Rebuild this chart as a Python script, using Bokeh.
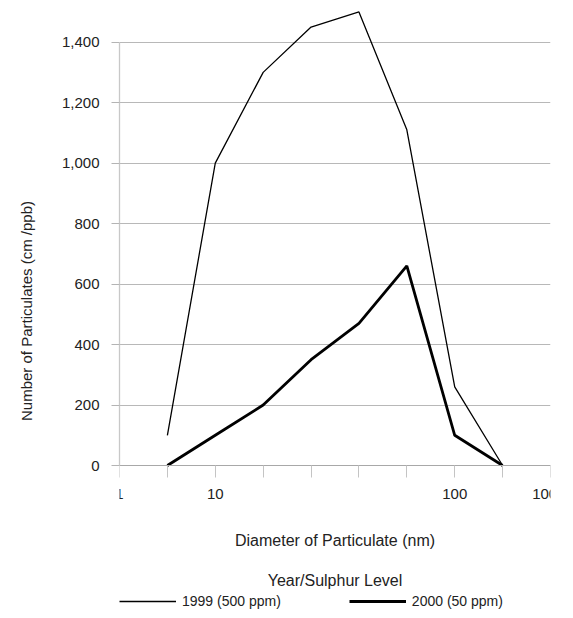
from bokeh.plotting import figure
from bokeh.models import (Range1d, FixedTicker, NumeralTickFormatter, Legend, LegendItem,
                          LinearAxis)
from bokeh.embed import file_html
from bokeh.resources import INLINE

# category slots on the x axis and their labels
slot_labels = ["1", "", "10", "", "", "", "", "100", "", "1000"]
slots = [1, 2, 3, 4, 5, 6, 7, 8]
y1999 = [100, 1000, 1300, 1450, 1500, 1110, 260, 0]
y2000 = [0, 100, 200, 350, 470, 660, 100, 0]
y_ticks = [0, 200, 400, 600, 800, 1000, 1200, 1400]

FONT = "Liberation Sans"
TXT = "#222222"

# the frame reaches down below the x axis so the legend can sit inside it
p = figure(frame_width=431, frame_height=603,
           min_border_left=119, min_border_right=15, min_border_top=9, min_border_bottom=0,
           x_range=Range1d(0, len(slot_labels) - 1), y_range=Range1d(-486, 1508),
           output_backend="svg", toolbar_location=None)
p.outline_line_color = None

r1 = p.line(slots, y1999, line_color="black", line_width=1.3)
r2 = p.line(slots, y2000, line_color="black", line_width=2.8)

# x axis, drawn at y = 0
p.xaxis.fixed_location = 0
p.xaxis.ticker = FixedTicker(ticks=list(range(len(slot_labels))))
p.xaxis.major_label_overrides = {i: s for i, s in enumerate(slot_labels)}
p.xaxis.minor_tick_line_color = None
p.xaxis.major_tick_in = 0
p.xaxis.major_tick_out = 12
p.xaxis.major_tick_line_color = "#c4c4c4"
p.xaxis.axis_line_color = "#a8a8a8"
p.xaxis.major_label_standoff = 11
p.xaxis.major_label_text_font = FONT
p.xaxis.major_label_text_font_size = "15px"
p.xaxis.major_label_text_color = TXT
p.xaxis.axis_label = "Diameter of Particulate (nm)"
p.xaxis.axis_label_text_font = FONT
p.xaxis.axis_label_text_font_size = "16px"
p.xaxis.axis_label_text_font_style = "normal"
p.xaxis.axis_label_text_color = TXT
p.xaxis.axis_label_standoff = 30
p.xgrid.grid_line_color = None

# y axis
p.yaxis.bounds = (0, 1400)
p.yaxis.ticker = FixedTicker(ticks=y_ticks)
p.yaxis.formatter = NumeralTickFormatter(format="0,0")
p.yaxis.minor_tick_line_color = None
p.yaxis.major_tick_in = 0
p.yaxis.major_tick_out = 8
p.yaxis.major_tick_line_color = "#b4b4b4"
p.yaxis.axis_line_color = "#c8c8c8"
p.yaxis.axis_line_width = 1.3
p.yaxis.major_label_standoff = 12
p.yaxis.major_label_text_font = FONT
p.yaxis.major_label_text_font_size = "15px"
p.yaxis.major_label_text_color = TXT
p.yaxis.axis_label = "Number of Particulates (cm /ppb)"
p.yaxis.axis_label_text_font = FONT
p.yaxis.axis_label_text_font_size = "15px"
p.yaxis.axis_label_text_font_style = "normal"
p.yaxis.axis_label_text_color = TXT
p.yaxis.axis_label_standoff = 24
p.ygrid.grid_line_color = "#b8b8b8"
p.ygrid.grid_line_width = 1

# legend title: an axis with only a label, also anchored at y = 0
title_axis = LinearAxis(ticker=FixedTicker(ticks=[]), axis_line_color=None, fixed_location=0,
                        major_tick_out=0, major_tick_in=0, minor_tick_out=0, minor_tick_in=0,
                        major_label_standoff=0, major_label_text_font_size="0px",
                        axis_label="Year/Sulphur Level", axis_label_standoff=106,
                        axis_label_text_font=FONT, axis_label_text_font_size="16px",
                        axis_label_text_font_style="normal", axis_label_text_color=TXT)
p.add_layout(title_axis, "below")

# legend inside the lower part of the frame
legend = Legend(items=[LegendItem(label="1999 (500 ppm)", renderers=[r1]),
                       LegendItem(label="2000 (50 ppm)", renderers=[r2])],
                orientation="horizontal", location=(0, 3),
                glyph_width=57, glyph_height=16, label_standoff=6, spacing=68,
                padding=0, margin=0, border_line_color=None, background_fill_alpha=0,
                label_text_font=FONT, label_text_font_size="14px", label_text_color=TXT)
p.add_layout(legend)

open("out.html", "w").write(file_html(p, INLINE))
